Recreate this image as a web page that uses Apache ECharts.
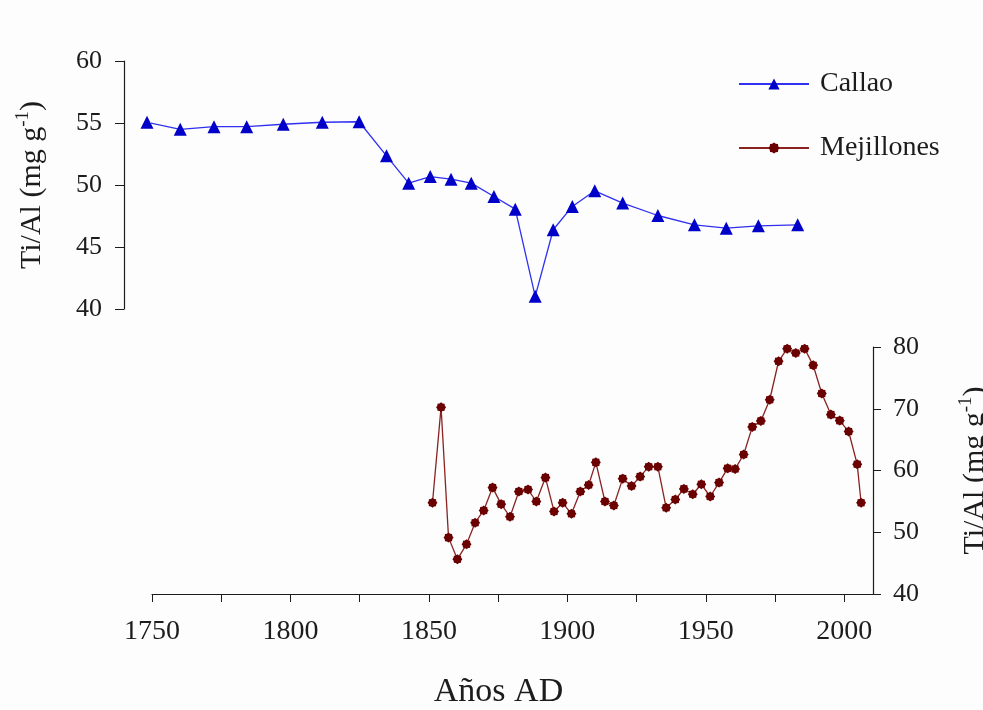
<!DOCTYPE html>
<html>
<head>
<meta charset="utf-8">
<script src="https://cdn.jsdelivr.net/npm/echarts@6/dist/echarts.min.js"></script>
<style>
  html, body { margin: 0; padding: 0; background: #fdfdfd; }
  #chart { width: 983px; height: 710px; }
</style>
</head>
<body>
<div id="chart"></div>
<script>
// Ti/Al ratios (mg g-1) against calendar year, two sediment cores
const callaoYears = [1748.2, 1760.2, 1772.4, 1784.2, 1797.4, 1811.5, 1824.8, 1834.7, 1842.7, 1850.5,
  1858.0, 1865.3, 1873.5, 1881.2, 1888.4, 1894.9, 1901.8, 1909.9, 1920.0, 1932.7, 1945.9, 1957.4,
  1969.0, 1983.2];
const callaoTiAl = [55.06, 54.49, 54.7, 54.7, 54.9, 55.06, 55.1, 52.35, 50.15, 50.68, 50.47, 50.15,
  49.07, 48.05, 41.02, 46.39, 48.27, 49.53, 48.54, 47.54, 46.79, 46.52, 46.71, 46.79];

const mejillonesYears = [1851.3, 1854.4, 1857.1, 1860.3, 1863.6, 1866.7, 1869.8, 1873.0, 1876.1,
  1879.3, 1882.5, 1885.8, 1888.8, 1892.1, 1895.2, 1898.3, 1901.5, 1904.7, 1907.7, 1910.3, 1913.6,
  1916.8, 1920.0, 1923.2, 1926.3, 1929.4, 1932.7, 1935.7, 1939.0, 1942.1, 1945.3, 1948.4, 1951.6,
  1954.8, 1957.9, 1960.6, 1963.7, 1966.8, 1969.9, 1973.1, 1976.3, 1979.4, 1982.5, 1985.7, 1988.8,
  1991.9, 1995.2, 1998.4, 2001.6, 2004.7, 2006.1];
const mejillonesTiAl = [54.77, 70.23, 49.13, 45.64, 48.05, 51.54, 53.53, 57.23, 54.55, 52.51, 56.59,
  56.91, 54.98, 58.85, 53.37, 54.77, 52.99, 56.59, 57.66, 61.32, 54.98, 54.34, 58.68, 57.50, 59.01,
  60.62, 60.62, 53.96, 55.30, 57.02, 56.16, 57.77, 55.79, 58.04, 60.35, 60.24, 62.60, 67.06, 68.03,
  71.46, 77.69, 79.73, 79.03, 79.73, 77.05, 72.48, 69.05, 68.08, 66.31, 61.0, 54.77];

const yearTicks = [1750, 1775, 1800, 1825, 1850, 1875, 1900, 1925, 1950, 1975, 2000];
const yearLabels = [1750, 1800, 1850, 1900, 1950, 2000];
const callaoTicks = [40, 45, 50, 55, 60];
const mejillonesTicks = [40, 50, 60, 70, 80];

const FONT = '"Liberation Serif", "Times New Roman", serif';
const INK = '#1c1c1c';

// eight-lobed marker for the Mejillones series
function lobedMarker() {
  const pts = [];
  for (let i = 0; i < 16; i++) {
    const a = Math.PI * 2 * i / 16;
    const r = i % 2 === 0 ? 10 : 8.2;
    pts.push((r * Math.cos(a)).toFixed(2) + ' ' + (r * Math.sin(a)).toFixed(2));
  }
  return 'path://M' + pts.join(' L') + ' Z';
}

const zip = (xs, ys) => xs.map((x, i) => [x, ys[i]]);

const axisName = (size, sup) => ({
  fontFamily: FONT, color: INK,
  rich: {
    t: { fontFamily: FONT, fontSize: size, color: INK, lineHeight: size + 6 },
    s: { fontFamily: FONT, fontSize: sup, color: INK, verticalAlign: 'top', lineHeight: size + 6 }
  }
});

const chart = echarts.init(document.getElementById('chart'));
chart.setOption({
  backgroundColor: '#fdfdfd',
  animation: false,
  legend: {
    orient: 'vertical',
    left: 733, top: 65,
    itemWidth: 70, itemHeight: 14, itemGap: 36,
    textStyle: { fontFamily: FONT, fontSize: 28, color: INK, lineHeight: 28, padding: [0, 0, 0, 6] },
    data: ['Callao', 'Mejillones']
  },
  grid: [
    { left: 152, width: 721, top: 61, height: 248, outerBoundsMode: 'none' },
    { left: 152, width: 721, top: 347, height: 247, outerBoundsMode: 'none' }
  ],
  xAxis: [
    { type: 'value', gridIndex: 0, min: 1750, max: 2010.4, show: false },
    {
      type: 'value', gridIndex: 1, min: 1750, max: 2010.4,
      name: 'Años AD', nameLocation: 'middle', nameGap: 81,
      nameTextStyle: { fontFamily: FONT, fontSize: 34, color: INK, padding: [0, 28, 0, 0] },
      axisLine: { lineStyle: { color: INK, width: 1.2 } },
      axisTick: { show: true, length: 8, customValues: yearTicks, lineStyle: { color: INK } },
      axisLabel: {
        customValues: yearLabels, margin: 24, fontFamily: FONT, fontSize: 28, color: INK,
        formatter: v => String(Math.round(v))
      },
      splitLine: { show: false }
    }
  ],
  yAxis: [
    {
      type: 'value', gridIndex: 0, min: 40, max: 60, interval: 5, position: 'left', offset: 28,
      name: '{t|Ti/Al (mg g}{s|-1}{t|)}', nameLocation: 'middle', nameRotate: 90, nameGap: 74,
      nameTextStyle: axisName(30, 19),
      axisLine: { show: true, lineStyle: { color: INK, width: 1.2 } },
      axisTick: { show: true, length: 9, customValues: callaoTicks, lineStyle: { color: INK } },
      axisLabel: { margin: 22, fontFamily: FONT, fontSize: 26, color: INK },
      splitLine: { show: false }
    },
    {
      type: 'value', gridIndex: 1, min: 40, max: 80, interval: 10, position: 'right',
      name: '{t|Ti/Al (mg g}{s|-1}{t|)}', nameLocation: 'middle', nameRotate: 90, nameGap: 84,
      nameTextStyle: axisName(30, 19),
      axisLine: { show: true, lineStyle: { color: INK, width: 1.2 } },
      axisTick: { show: true, length: 8, customValues: mejillonesTicks, lineStyle: { color: INK } },
      axisLabel: { margin: 20, fontFamily: FONT, fontSize: 26, color: INK },
      splitLine: { show: false }
    }
  ],
  series: [
    {
      name: 'Callao', type: 'line', xAxisIndex: 0, yAxisIndex: 0, clip: false,
      data: zip(callaoYears, callaoTiAl),
      symbol: 'triangle', symbolSize: 13,
      lineStyle: { color: '#3030f0', width: 1.3 },
      itemStyle: { color: '#0000c8' }
    },
    {
      name: 'Mejillones', type: 'line', xAxisIndex: 1, yAxisIndex: 1, clip: false,
      data: zip(mejillonesYears, mejillonesTiAl),
      symbol: lobedMarker(), symbolSize: 10,
      lineStyle: { color: '#8a2222', width: 1.3 },
      itemStyle: { color: '#6a0000' }
    }
  ]
});
</script>
</body>
</html>
